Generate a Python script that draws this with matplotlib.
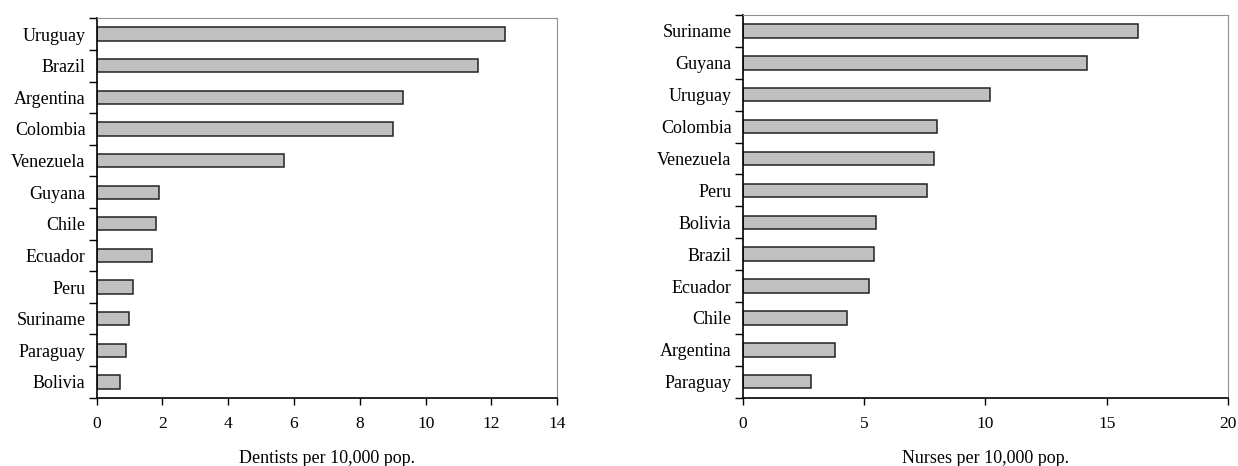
import matplotlib
matplotlib.use("Agg")
import matplotlib.pyplot as plt
import numpy as np

# Datos
dent_paises = ["Uruguay", "Brazil", "Argentina", "Colombia", "Venezuela", "Guyana",
               "Chile", "Ecuador", "Peru", "Suriname", "Paraguay", "Bolivia"]
dent_valores = [12.4, 11.6, 9.3, 9.0, 5.7, 1.9, 1.8, 1.7, 1.1, 1.0, 0.9, 0.7]

enf_paises = ["Suriname", "Guyana", "Uruguay", "Colombia", "Venezuela", "Peru",
              "Bolivia", "Brazil", "Ecuador", "Chile", "Argentina", "Paraguay"]
enf_valores = [16.3, 14.2, 10.2, 8.0, 7.9, 7.6, 5.5, 5.4, 5.2, 4.3, 3.8, 2.8]

plt.rcParams["font.family"] = ["Liberation Serif", "DejaVu Serif"]

fig = plt.figure(figsize=(12.38, 4.66), dpi=100)
W, H = 1238, 466
ax1 = fig.add_axes([96.5 / W, 1 - 397.7 / H, (557.3 - 96.5) / W, (397.7 - 18.3) / H])
ax2 = fig.add_axes([742.7 / W, 1 - 397.7 / H, (1228 - 742.7) / W, (397.7 - 15) / H])


def dibujar(ax, paises, valores, xmax, paso, etiqueta):
    n = len(paises)
    y = np.arange(n)[::-1]
    ax.barh(y, valores, height=0.42, color="#c0c0c0", edgecolor="#222222", linewidth=1.1)
    ax.set_ylim(-0.5, n - 0.5)
    ax.set_xlim(0, xmax)
    ax.set_yticks(y)
    ax.set_yticklabels(paises, fontsize=13)
    ax.tick_params(axis="y", which="major", length=0, pad=8)
    ax.set_yticks(np.arange(n + 1) - 0.5, minor=True)
    ax.tick_params(axis="y", which="minor", length=6, width=1, direction="out")
    ax.set_xticks(np.arange(0, xmax + 0.1, paso))
    ax.tick_params(axis="x", length=5, width=1, direction="out", labelsize=12.5, pad=8)
    ax.set_xlabel(etiqueta, fontsize=13, labelpad=13)
    ax.spines["left"].set_color("black")
    ax.spines["bottom"].set_color("black")
    ax.spines["left"].set_linewidth(1.2)
    ax.spines["bottom"].set_linewidth(1.2)
    ax.spines["top"].set_color("#909090")
    ax.spines["right"].set_color("#909090")


dibujar(ax1, dent_paises, dent_valores, 14, 2, "Dentists per 10,000 pop.")
dibujar(ax2, enf_paises, enf_valores, 20, 5, "Nurses per 10,000 pop.")

fig.savefig("out.png", dpi=100)
